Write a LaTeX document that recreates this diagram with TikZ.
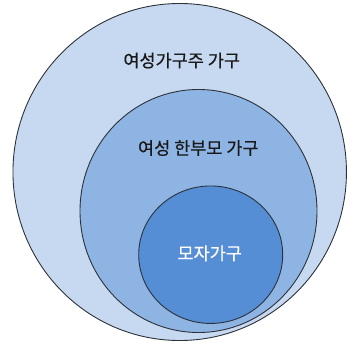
\documentclass[tikz,border=0pt]{standalone}
\usepackage{fontspec}
\newfontfamily\kr[FakeBold=0.5]{Noto Sans CJK KR}
\usetikzlibrary{shapes.geometric}
\definecolor{outerfill}{RGB}{198,217,240}
\definecolor{midfill}{RGB}{142,180,227}
\definecolor{innerfill}{RGB}{85,142,213}
\definecolor{edgecol}{RGB}{45,50,58}
\definecolor{txtcol}{RGB}{25,25,25}
\tikzset{
  ring/.style={ellipse, draw=edgecol, line width=0.9pt, inner sep=0pt},
  lab/.style={font=\kr\fontsize{17.5}{20}\selectfont, inner sep=0pt, text=txtcol}
}
\begin{document}
\begin{tikzpicture}[x=1pt,y=-1pt]
\useasboundingbox (0,0) rectangle (347,345);
\node[ring, fill=outerfill, minimum width=333.5pt, minimum height=337pt] (outer) at (179.7,172) {};
\node[ring, fill=midfill, minimum width=237pt, minimum height=243pt] (mid) at (198.5,211) {};
\node[ring, fill=innerfill, minimum width=144pt, minimum height=137.5pt] (inner) at (210.7,254.7) {};
\node[lab] (t1) at (181.7,60.5) {여성가구주 가구};
\node[lab] (t2) at (198.3,148) {여성 한부모 가구};
\node[lab, text=white] (t3) at (209.7,253.3) {모자가구};
\end{tikzpicture}
\end{document}
